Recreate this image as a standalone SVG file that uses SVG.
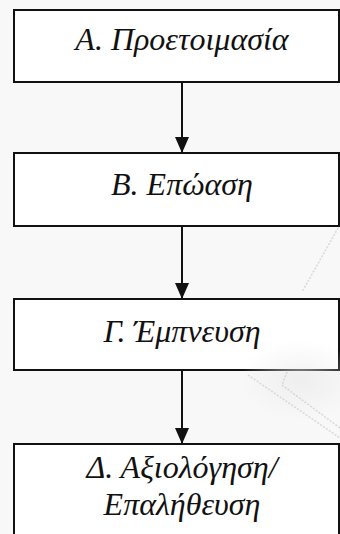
<svg xmlns="http://www.w3.org/2000/svg" width="340" height="534" viewBox="0 0 340 534">
  <style>
    .box { fill: #ffffff; stroke: #111111; stroke-width: 2; }
    .label { font-family: "Liberation Serif", "Times New Roman", "DejaVu Serif", serif; font-style: italic; font-size: 32px; fill: #111111; text-anchor: middle; }
    .edge { stroke: #111111; stroke-width: 2; fill: none; }
    .wm { stroke: #cccccc; stroke-width: 1.5; fill: none; stroke-dasharray: 2 1.5; opacity: 0.7; }
  </style>
  <defs>
    <marker id="arrow" viewBox="0 0 16 14" refX="16" refY="7" markerWidth="16" markerHeight="14" markerUnits="userSpaceOnUse" orient="auto">
      <path d="M0,0 L16,7 L0,14 Z" fill="#111111"/>
    </marker>
    <radialGradient id="haze" cx="0.5" cy="0.5" r="0.5">
      <stop offset="0" stop-color="#e8e8e8" stop-opacity="0.6"/>
      <stop offset="1" stop-color="#e8e8e8" stop-opacity="0"/>
    </radialGradient>
  </defs>

  <!-- page background -->
  <rect width="340" height="534" fill="#f8f8f8"/>

  <!-- boxes -->
  <g id="node-a">
    <rect class="box" x="14" y="10" width="325" height="72"/>
    <text class="label" x="182" y="50">Α. Προετοιμασία</text>
  </g>
  <g id="node-b">
    <rect class="box" x="14" y="153" width="325" height="73"/>
    <text class="label" x="182" y="195">Β. Επώαση</text>
  </g>
  <g id="node-c">
    <rect class="box" x="14" y="299" width="325" height="71"/>
    <text class="label" x="182" y="342">Γ. Έμπνευση</text>
  </g>
  <g id="node-d">
    <rect class="box" x="14" y="444" width="325" height="100"/>
    <text class="label" x="182" y="478">Δ. Αξιολόγηση/</text>
    <text class="label" x="182" y="515">Επαλήθευση</text>
  </g>

  <!-- faint background emblem -->
  <g id="emblem">
    <ellipse cx="300" cy="380" rx="60" ry="40" fill="url(#haze)"/>
    <polyline class="wm" points="338,228 302,292"/>
    <polyline class="wm" points="248,375 340,438"/>
    <polyline class="wm" points="287,372 282,385 340,428"/>
  </g>

  <!-- connectors -->
  <g id="connectors">
    <line class="edge" x1="182" y1="82" x2="182" y2="153" marker-end="url(#arrow)"/>
    <line class="edge" x1="182" y1="226" x2="182" y2="299" marker-end="url(#arrow)"/>
    <line class="edge" x1="182" y1="370" x2="182" y2="444" marker-end="url(#arrow)"/>
  </g>
</svg>
